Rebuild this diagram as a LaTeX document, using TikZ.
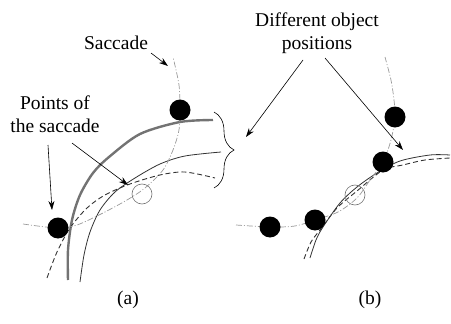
\documentclass[tikz,border=0pt]{standalone}
\usepackage{fontspec}
\setmainfont{Liberation Serif}
\usepackage{tikz}
\usetikzlibrary{
  arrows.meta,
  decorations.pathreplacing
}

\begin{document}
\begin{tikzpicture}[
  x=1pt, y=-1pt,
  lbl/.style={
    font=\fontsize{19.5}{23}\selectfont, align=center, inner sep=0pt,
  },
  dot/.style={
    circle, fill=black, minimum size=21pt, inner sep=0pt,
  },
  hollow/.style={
    circle, draw=black!55, line width=0.6pt, minimum size=20pt, inner sep=0pt,
  },
  saccline/.style={
    draw=black!40, line width=0.7pt, dash pattern=on 6pt off 2pt on 1pt off 2pt,
  },
  arcthick/.style={draw=black!55, line width=2.4pt},
  arcthin/.style={draw=black!80, line width=0.8pt},
  arcdash/.style={draw=black!80, line width=0.9pt, dash pattern=on 5pt off 3pt},
  pointer/.style={-{Stealth[length=9pt,width=6pt]}, line width=0.6pt},
]
\useasboundingbox (0,0) rectangle (451,324);

% Panel (a): curves
\draw[arcthick] plot[smooth] coordinates {(68,280) (68,250) (72,220) (80,195) (93,173) (109,157) (140,134) (180,122) (213,120)};
\draw[arcthin] plot[smooth] coordinates {(80,282) (84,255) (90,232) (100,210) (115,192) (135,178) (160,164) (185,156) (221,152)};
\draw[arcdash] plot[smooth] coordinates {(47,278) (57,252) (70,228) (87,208) (105,195) (130,184) (160,175) (185,172) (215,178)};
\draw[saccline] plot[smooth] coordinates {(23,224) (57,228) (77,225) (103,213) (127,200) (145,188) (163,170) (173,150) (179,130) (180,110) (179,85) (173,57)};

% Panel (a): points
\node[dot] (dotA1) at (58,228) {};
\node[dot] (dotA2) at (180,110) {};
\node[hollow] (ringA) at (142,194) {};
\draw[decorate, decoration={brace, amplitude=20pt}, line width=0.6pt] (214,112) -- (214,188);

% Panel (b): curves
\draw[arcthin] plot[smooth] coordinates {(310,258) (316,240) (323,227) (340,203) (357,187) (377,173) (400,161) (430,155) (450,155)};
\draw[arcdash] plot[smooth] coordinates {(304,259) (311,242) (320,230) (337,208) (357,191) (383,170) (403,165) (425,160) (450,158)};
\draw[saccline] plot[smooth] coordinates {(236,225) (270,227) (295,226) (315,220) (338,212) (357,198) (370,180) (383,162) (391,140) (395,117) (394,100) (391,80) (385,57)};

% Panel (b): points
\node[dot] (dotB1) at (270,227) {};
\node[dot] (dotB2) at (315,220) {};
\node[dot] (dotB3) at (383,162) {};
\node[dot] (dotB4) at (395,117) {};
\node[hollow] (ringB) at (355,195) {};

% Labels
\node[lbl] (saccadelbl) at (116,43) {Saccade};
\node[lbl] (pointslbl) at (55,114) {Points of\\the saccade};
\node[lbl] (difflbl) at (317,33) {Different object\\positions};
\node[lbl] (capa) at (128,300) {(a)};
\node[lbl] (capb) at (370,300) {(b)};

% Pointers
\coordinate (sacctip) at (168,66);
\coordinate (ptip1) at (52,210);
\coordinate (ptip2) at (128,185);
\coordinate (dtip1) at (246,137);
\coordinate (dtip2) at (403,150);
\draw[pointer] ([shift={(35,10)}]saccadelbl.center) -- (sacctip);
\draw[pointer] ([shift={(-7,31)}]pointslbl.center) -- (ptip1);
\draw[pointer] ([shift={(17,29)}]pointslbl.center) -- (ptip2);
\draw[pointer] ([shift={(-14,27)}]difflbl.center) -- (dtip1);
\draw[pointer] ([shift={(8,25)}]difflbl.center) -- (dtip2);

\end{tikzpicture}
\end{document}
